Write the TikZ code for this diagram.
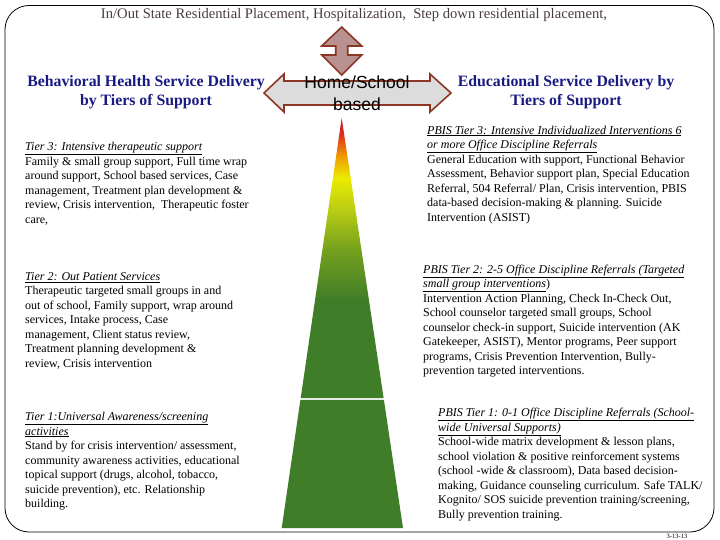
\documentclass[tikz,border=0pt]{standalone}
\usepackage{fontspec}
\setmainfont{Liberation Serif}
\newfontfamily\arialfont{Liberation Sans}
\usetikzlibrary{positioning}

\definecolor{navyhead}{RGB}{25,25,130}
\definecolor{titlegray}{RGB}{75,60,60}
\definecolor{arrowrim}{RGB}{140,55,35}
\definecolor{roseshaft}{RGB}{185,145,145}
\definecolor{grayshaft}{RGB}{220,220,220}
\definecolor{tiergreen}{RGB}{64,125,40}
\definecolor{tiermid}{RGB}{115,160,30}
\definecolor{tierlime}{RGB}{185,205,20}
\definecolor{tieryellow}{RGB}{235,235,0}
\definecolor{tierorange}{RGB}{240,150,0}
\definecolor{tierred}{RGB}{225,45,30}
\definecolor{tiertop}{RGB}{190,20,50}

\pgfdeclareverticalshading{tiershade}{100bp}{color(0bp)=(tiergreen); color(42.5bp)=(tiergreen); color(51.4bp)=(tiermid); color(58.6bp)=(tierlime); color(64.3bp)=(tieryellow); color(68.4bp)=(tierorange); color(72bp)=(tierred); color(75bp)=(tiertop); color(100bp)=(tiertop)}

\newcommand{\tierhead}[1]{\underline{\textit{#1}}}

\tikzset{
  bodytext/.style={anchor=north west, inner sep=0pt, align=left, font=\fontsize{12}{14.5}\selectfont},
  headtext/.style={align=center, inner sep=0pt, text=navyhead, font=\fontsize{15.8}{19}\selectfont\bfseries},
  arrowshape/.style={draw=arrowrim, line width=1.6pt, line join=miter}
}

\begin{document}
\begin{tikzpicture}[x=1pt,y=1pt,yscale=-1,xscale=1]
	\useasboundingbox (0,0) rectangle (720,540);
	
	%Shape: Rounded frame
	\draw [line width=0.8pt, rounded corners=24pt] (5,5.5) rectangle (714,532);
	
	%Shape: Pyramid upper part
	\path [shading=tiershade] (341.7,118) -- (383.6,398) -- (300.7,398) -- cycle;
	%Shape: Pyramid lower part
	\fill [tiergreen] (300.4,399.8) -- (383.9,399.8) -- (403,528) -- (281.7,528) -- cycle;
	
	%Shape: Up Down Arrow
	\draw [arrowshape, fill=roseshaft] (341.7,27) -- (361.7,46) -- (347.7,46) -- (347.7,55) -- (361.7,55) -- (341.7,75) -- (321.7,55) -- (335.7,55) -- (335.7,46) -- (321.7,46) -- cycle;
	%Shape: Left Right Arrow
	\draw [arrowshape, fill=grayshaft] (264,93) -- (284,74) -- (284,81) -- (430,81) -- (430,74) -- (451,93) -- (430,112) -- (430,105) -- (284,105) -- (284,112) -- cycle;
	
	% Text Node
	\node (title) at (354,14.5) [text=titlegray, inner sep=0pt, font=\fontsize{14.6}{16}\selectfont] {In/Out State Residential Placement, Hospitalization,\ \ Step down residential placement,};
	% Text Node
	\node (homeschool) at (357,93) [align=center, inner sep=0pt, font=\arialfont\fontsize{17.5}{22}\selectfont] {Home/School\\based};
	% Text Node
	\node (bhhead) at (146,92.5) [headtext] {Behavioral Health Service Delivery\\by Tiers of Support};
	% Text Node
	\node (eduhead) at (566,92.5) [headtext] {Educational Service Delivery by\\Tiers of Support};
	
	% Text Node
	\node (bhtier3) at (25,142) [bodytext] {\tierhead{Tier 3: Intensive therapeutic support}\\Family \& small group support, Full time wrap\\around support, School based services, Case\\management, Treatment plan development \&\\review, Crisis intervention,\ \ Therapeutic foster\\care,};
	% Text Node
	\node (bhtier2) at (25,272) [bodytext] {\tierhead{Tier 2: Out Patient Services}\\Therapeutic targeted small groups in and\\out of school, Family support, wrap around\\services, Intake process, Case\\management, Client status review,\\Treatment planning development \&\\review, Crisis intervention};
	% Text Node
	\node (bhtier1) at (25,412) [bodytext] {\tierhead{Tier 1:Universal Awareness/screening}\\\tierhead{activities}\\Stand by for crisis intervention/ assessment,\\community awareness activities, educational\\topical support (drugs, alcohol, tobacco,\\suicide prevention), etc. Relationship\\building.};
	
	% Text Node
	\node (edutier3) at (427,125.5) [bodytext] {\tierhead{PBIS Tier 3: Intensive Individualized Interventions 6}\\\tierhead{or more Office Discipline Referrals}\\General Education with support, Functional Behavior\\Assessment, Behavior support plan, Special Education\\Referral, 504 Referral/ Plan, Crisis intervention, PBIS\\data-based decision-making \& planning. Suicide\\Intervention (ASIST)};
	% Text Node
	\node (edutier2) at (423,264.5) [bodytext] {\tierhead{PBIS Tier 2: 2-5 Office Discipline Referrals (Targeted}\\\tierhead{small group interventions})\\Intervention Action Planning, Check In-Check Out,\\School counselor targeted small groups, School\\counselor check-in support, Suicide intervention (AK\\Gatekeeper, ASIST), Mentor programs, Peer support\\programs, Crisis Prevention Intervention, Bully-\\prevention targeted interventions.};
	% Text Node
	\node (edutier1) at (438,408) [bodytext] {\tierhead{PBIS Tier 1: 0-1 Office Discipline Referrals (School-}\\\tierhead{wide Universal Supports)}\\School-wide matrix development \& lesson plans,\\school violation \& positive reinforcement systems\\(school -wide \& classroom), Data based decision-\\making, Guidance counseling curriculum. Safe TALK/\\Kognito/ SOS suicide prevention training/screening,\\Bully prevention training.};
	
	% Text Node
	\node (datestamp) at (677,536) [inner sep=0pt, font=\fontsize{6.5}{7}\selectfont] {3-13-13};
	
\end{tikzpicture}
\end{document}
